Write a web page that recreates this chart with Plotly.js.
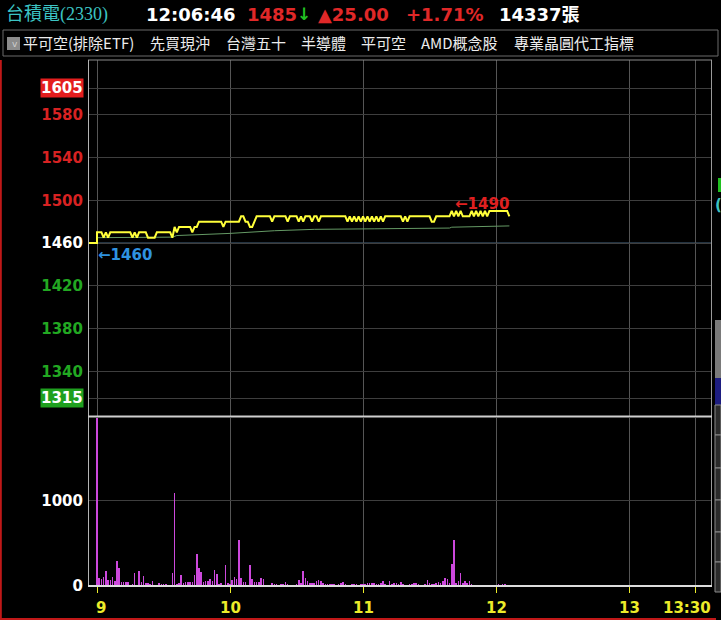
<!DOCTYPE html>
<html>
<head>
<meta charset="utf-8">
<script src="https://cdn.plot.ly/plotly-3.0.1.min.js"></script>
<style>
  html, body { margin: 0; padding: 0; background: #000; }
  #chart { width: 721px; height: 620px; }
</style>
</head>
<body>
<div id="chart"></div>
<script>
// ---------------- DATA ----------------
const stockName = "台積電(2330)";
const quoteTime = "12:06:46";
const lastPrice = "1485";
const change = "▲25.00";
const changePct = "+1.71%";
const totalVolume = "14337張";
const groups = ["平可空(排除ETF)", "先買現沖", "台灣五十", "半導體", "平可空", "AMD概念股", "專業晶圓代工指標"];

const startTime = "09:00";           // first per-minute sample
const preOpenTimes = ["08:56", "09:00"];
const preOpenPrices = [1460, 1460];  // previous close

// per-minute price from 09:00 to 12:06
const prices = [
  1470,1470,1470,1465,1470,1465,1470,1470,1470,1470,
  1470,1470,1470,1470,1470,1470,1465,1470,1465,1470,
  1470,1470,1470,1465,1465,1465,1465,1470,1470,1470,
  1470,1470,1470,1470,1465,1475,1470,1475,1475,1475,
  1475,1475,1475,1470,1475,1475,1480,1480,1480,1480,
  1480,1480,1480,1480,1480,1480,1480,1475,1480,1480,
  1480,1480,1480,1480,1480,1485,1485,1480,1480,1475,
  1475,1480,1485,1485,1485,1485,1485,1485,1485,1480,
  1485,1485,1485,1485,1485,1485,1480,1485,1485,1485,
  1485,1480,1485,1480,1485,1485,1485,1480,1485,1485,
  1480,1485,1485,1485,1485,1485,1485,1485,1485,1485,
  1485,1485,1485,1480,1485,1480,1485,1480,1485,1480,
  1485,1480,1485,1480,1485,1480,1485,1480,1485,1480,
  1485,1485,1485,1485,1485,1485,1485,1485,1480,1485,
  1480,1485,1485,1485,1485,1485,1485,1485,1485,1485,
  1485,1480,1480,1485,1485,1485,1485,1485,1485,1485,
  1490,1485,1490,1485,1490,1485,1485,1485,1485,1490,
  1485,1490,1485,1490,1485,1490,1485,1490,1490,1490,
  1490,1490,1490,1490,1490,1490,1485
];

// per-minute volume (lots)
const volumes = [
  2100,98,82,110,176,70,70,110,63,294,
  212,51,51,51,51,16,25,153,16,180,
  51,118,40,40,25,63,16,16,35,25,
  25,25,16,16,153,1090,25,40,133,30,
  51,51,51,51,133,370,212,165,51,63,
  63,86,63,184,141,25,40,16,243,40,
  25,70,106,86,540,94,51,51,16,243,
  86,51,51,51,98,86,16,16,16,40,
  25,25,16,25,25,51,25,16,16,16,
  25,70,40,180,94,55,40,31,40,55,
  70,55,40,24,24,24,24,24,16,24,
  31,47,24,16,16,24,24,24,16,24,
  24,24,31,40,31,31,24,24,31,55,
  24,16,55,24,31,40,24,47,24,16,
  16,24,24,40,31,24,16,16,24,70,
  31,24,24,31,47,31,55,94,78,40,
  258,540,40,55,149,40,55,31,55,24,
  16,16,16,16,16,16,16,16,16,16,
  16,24,16,24,24,16,16
];

// average price line
const vwapTimes  = ["09:00","09:34","09:36","09:45","10:00","10:20","10:38","11:05","11:39","11:40","11:53","12:06"];
const vwapValues = [1465, 1465.5, 1467, 1467.8, 1469, 1471.5, 1472.8, 1473.3, 1474, 1474.8, 1475.4, 1476];

const priceTicks = [1605, 1580, 1540, 1500, 1460, 1420, 1380, 1340, 1315];
const refPrice = 1460;
const volTicks = [0, 1000];
const volTickLabels = ["0", "1000"];
const timeTicks = ["09:00", "10:00", "11:00", "12:00", "13:00", "13:30"];
const timeTickLabels = ["9", "10", "11", "12", "13", "13:30"];
const highLabel = "←1490", highTime = "11:40", highPrice = 1490;
const lowLabel = "←1460", lowTime = "09:00", lowPrice = 1460;

// ---------------- HELPERS ----------------
const toMin = s => { const [h, m] = s.split(":").map(Number); return h * 60 + m - 540; };
const t0 = toMin(startTime);
const ML = 88, MR = 9, MT = 60, MB = 34, W = 721, H = 620;
const PW = W - ML - MR, PH = H - MT - MB;
const px = X => (X - ML) / PW;
const py = Y => (H - MB - Y) / PH;

const RED = "#d82222", GREEN = "#22a822", WHITE = "#ffffff";
const NUM = "DejaVu Sans";

// ---------------- TRACES ----------------
const priceX = preOpenTimes.map(toMin).concat(prices.map((_, i) => t0 + i));
const priceY = preOpenPrices.concat(prices);

const traces = [
  {
    type: "bar", x: volumes.map((_, i) => t0 + i), y: volumes,
    xaxis: "x", yaxis: "y2", width: 0.7,
    marker: { color: "#cc48dc", line: { width: 0 } }
  },
  {
    type: "scatter", mode: "lines", x: vwapTimes.map(toMin), y: vwapValues,
    xaxis: "x", yaxis: "y", line: { color: "#659a65", width: 1 }
  },
  {
    type: "scatter", mode: "lines", x: priceX, y: priceY,
    xaxis: "x", yaxis: "y", line: { color: "#ffff3a", width: 2 }
  }
];

// ---------------- LAYOUT ----------------
const tickColor = v => v > refPrice ? RED : (v < refPrice ? GREEN : WHITE);
const boxed = [priceTicks[0], priceTicks[priceTicks.length - 1]];
const priceTickText = priceTicks.map(v => boxed.includes(v) ? "" :
  `<span style="color:${tickColor(v)}">${v}</span>`);

const annotations = [];
const hdr = (text, X, Y, color, size, family, weight) => annotations.push({
  xref: "paper", yref: "paper", x: px(X), y: py(Y), xanchor: "left", yanchor: "middle",
  text, showarrow: false, font: { color, size, family, weight: weight || 400 }
});
hdr(stockName, 4, 14, "#3cc4c4", 18, "Liberation Serif, Noto Sans CJK TC");
hdr(quoteTime, 144, 14, WHITE, 18, NUM, 700);
hdr(lastPrice, 245, 14, "#e02828", 18, NUM, 700);
hdr("↓", 295, 14, "#22c022", 17, NUM, 700);
hdr(change, 316, 14, "#e02828", 18, NUM, 700);
hdr(changePct, 404, 14, "#e02828", 18, NUM, 700);
hdr(totalVolume, 497, 14, WHITE, 18, NUM + ", Noto Sans CJK TC", 700);

const groupX = [21, 148, 224, 299, 359, 419, 512];
groups.forEach((g, i) => hdr(g, groupX[i], 43, "#ececec", 15, "Noto Sans CJK TC"));
hdr("v", 10, 44, "#d0d0d0", 9, NUM);

// boxed extreme ticks
[[boxed[0], "#e41e1e"], [boxed[1], "#1fa01f"]].forEach(([v, bg]) => annotations.push({
  xref: "paper", yref: "y", x: px(84), y: v, xanchor: "right", yanchor: "middle",
  text: String(v), showarrow: false, bgcolor: bg, borderpad: 0,
  font: { color: WHITE, size: 15, family: NUM, weight: 700 }
}));

// high / low markers
annotations.push({
  xref: "x", yref: "y", x: toMin(highTime), y: highPrice, xanchor: "left", yanchor: "bottom",
  xshift: 1, yshift: -4, text: highLabel, showarrow: false,
  font: { color: "#e02020", size: 15, family: NUM, weight: 700 }
});
annotations.push({
  xref: "x", yref: "y", x: toMin(lowTime), y: lowPrice, xanchor: "left", yanchor: "top",
  xshift: -1, yshift: -1, text: lowLabel, showarrow: false,
  font: { color: "#2f92e0", size: 15, family: NUM, weight: 700 }
});

// x tick labels
const xShift = [4, 0, 0, 0, 0, -9];
timeTicks.forEach((t, i) => annotations.push({
  xref: "x", yref: "paper", x: toMin(t), y: py(608), xanchor: "center", yanchor: "middle",
  xshift: xShift[i], text: timeTickLabels[i], showarrow: false,
  font: { color: "#ecec2a", size: 15, family: NUM, weight: 700 }
}));
// partial widget glyph at the right edge
hdr("(", 713, 205, "#3cc4c4", 15, NUM, 700);

const line = (x0, y0, x1, y1, color, width) => ({
  type: "line", xref: "paper", yref: "paper", x0: px(x0), y0: py(y0), x1: px(x1), y1: py(y1),
  line: { color, width }, layer: "above"
});
const rect = (x0, y0, x1, y1, fill, lc, lw) => ({
  type: "rect", xref: "paper", yref: "paper", x0: px(x0), y0: py(y0), x1: px(x1), y1: py(y1),
  fillcolor: fill, line: { color: lc || fill, width: lw || 0 }, layer: "above"
});

const shapes = [
  // reference (previous close) line
  { type: "line", xref: "paper", yref: "y", x0: 0, x1: 1, y0: refPrice, y1: refPrice,
    line: { color: "#4a6a88", width: 1 }, layer: "below" },
  // frame
  line(88, 60, 712, 60, "#8a8a8a", 1),
  line(88.5, 60, 88.5, 586, "#b4b4b4", 1),
  line(711.5, 60, 711.5, 586, "#9a9a9a", 1),
  line(88, 586, 712, 586, "#dcdcdc", 2),
  line(88, 416.5, 712, 416.5, "#cfcfcf", 2),
  // header group box + checkbox
  rect(3, 30, 718, 56, "rgba(0,0,0,0)", "#6a6a6a", 1),
  rect(7, 37, 20, 50, "#8c8c8c"),
  // red window border
  line(0.8, 60, 0.8, 620, "#c01818", 2),
  line(0, 619, 716, 619, "#c01818", 2),
  // partial widgets at the right edge
  rect(718, 178, 721, 192, "#20c020"),
  rect(715, 320, 721, 378, "#7a7a7a"),
  rect(715, 378, 721, 405, "#1c1c80"),
  rect(715, 405, 721, 435, "#2a2a2a", "#8a8a8a", 1),
  rect(715, 435, 721, 468, "#2a2a2a", "#8a8a8a", 1),
  rect(715, 468, 721, 500, "#2a2a2a", "#8a8a8a", 1),
  rect(715, 500, 721, 532, "#2a2a2a", "#8a8a8a", 1),
  rect(715, 532, 721, 562, "#2a2a2a", "#8a8a8a", 1),
  rect(715, 562, 721, 592, "#2a2a2a", "#8a8a8a", 1)
];

const gridC = "#3e3e3e";
const layout = {
  width: W, height: H,
  margin: { l: ML, r: MR, t: MT, b: MB, pad: 0 },
  paper_bgcolor: "#000", plot_bgcolor: "#000",
  showlegend: false,
  xaxis: {
    anchor: "y2", range: [-4.06, 277.4], tickvals: timeTicks.map(toMin),
    showticklabels: false, ticks: "outside", ticklen: 6, tickcolor: "#ecec2a", tickwidth: 1,
    showgrid: true, gridcolor: "#555555", gridwidth: 1, zeroline: false, showline: false
  },
  yaxis: {
    domain: [py(416), 1], range: [1298.2, 1631.2],
    tickvals: priceTicks, ticktext: priceTickText, ticks: "", ticklabelstandoff: 4,
    tickfont: { family: NUM, size: 15, weight: 700, color: WHITE },
    showgrid: true, gridcolor: gridC, zeroline: false, showline: false
  },
  yaxis2: {
    domain: [0, py(418)], range: [0, 1966],
    tickvals: volTicks, ticktext: volTickLabels, ticks: "", ticklabelstandoff: 4,
    tickfont: { family: NUM, size: 15, weight: 700, color: WHITE },
    showgrid: true, gridcolor: gridC, zeroline: false, showline: false
  },
  bargap: 0,
  annotations, shapes
};

Plotly.newPlot("chart", traces, layout, { displayModeBar: false, staticPlot: true });
</script>
</body>
</html>
